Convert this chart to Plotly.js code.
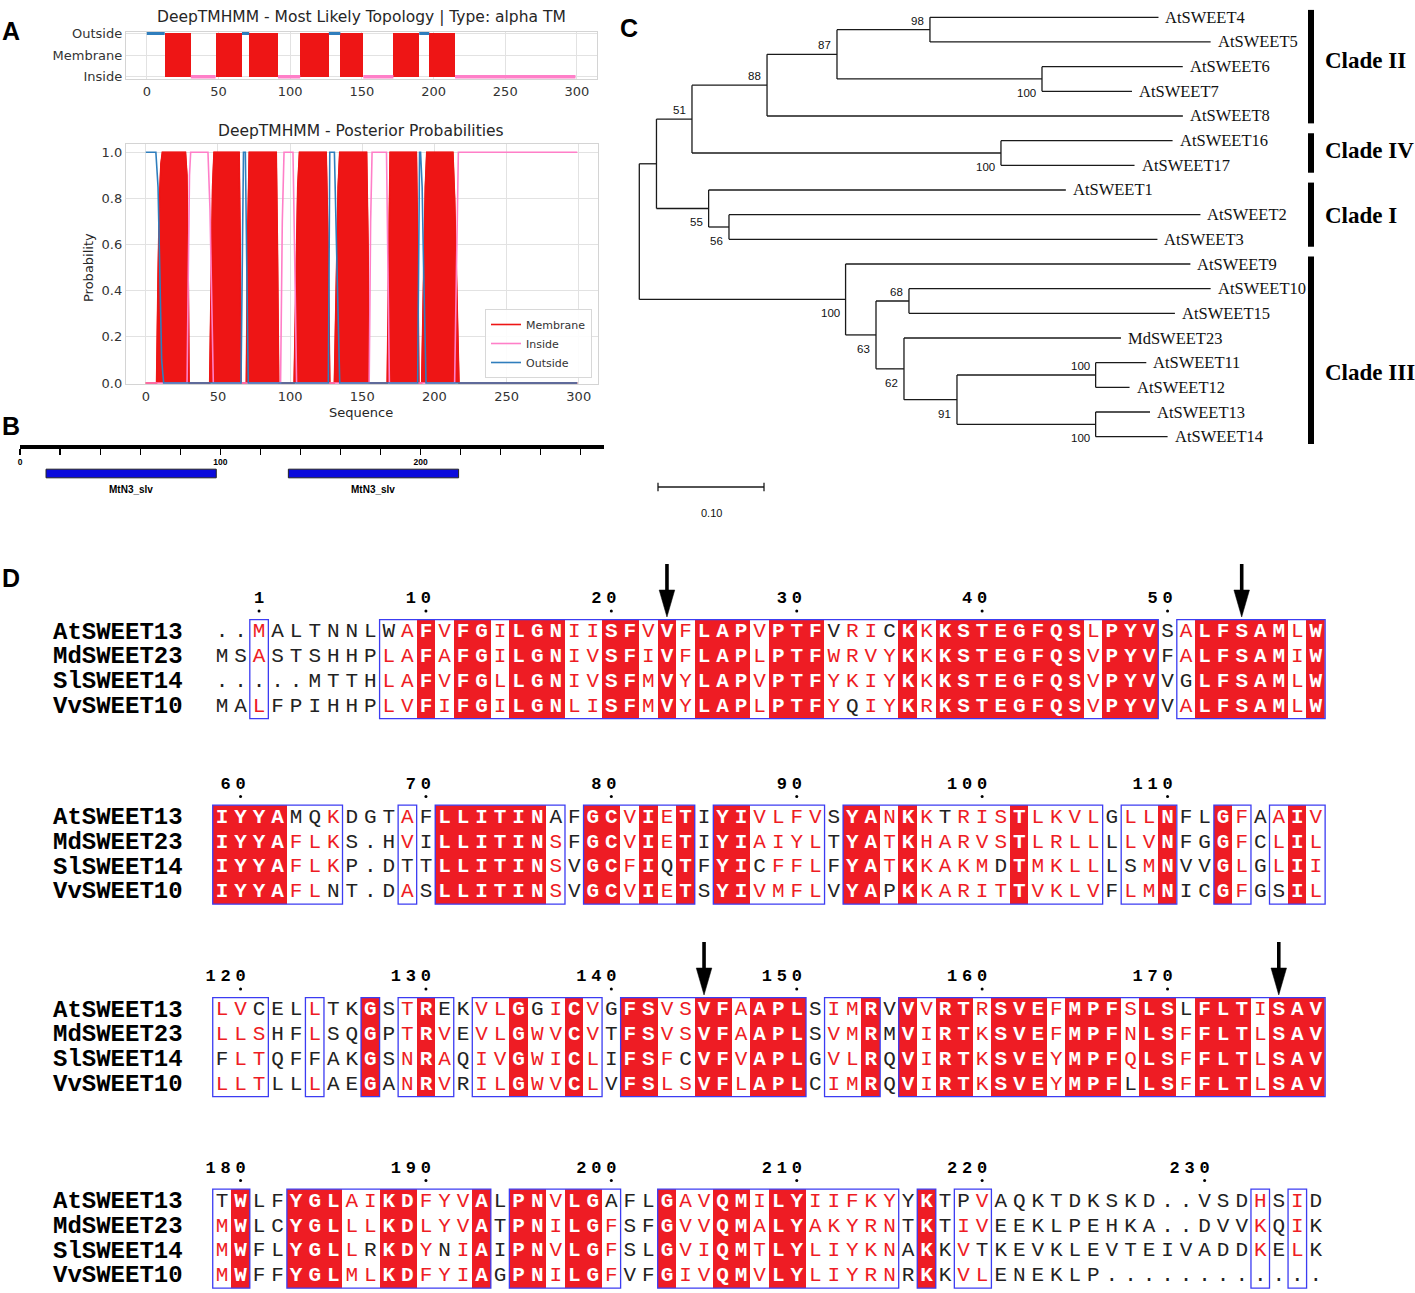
<!DOCTYPE html>
<html>
<head>
<meta charset="utf-8">
<script src="https://cdn.plot.ly/plotly-3.0.1.min.js"></script>
<style>
html,body{margin:0;padding:0;background:#ffffff;}
#chart{width:1415px;height:1293px;}
</style>
</head>
<body>
<div id="chart"></div>
<script>
// ===================== DATA =====================
// Panel A (top): DeepTMHMM most likely topology (residue segments)
const topoStart = [0, 12.5, 30.7, 48, 66.4, 71.4, 91.5, 107, 127, 135, 151, 172, 190, 197, 215];
const topoEnd   = [12.5, 30.7, 48, 66.4, 71.4, 91.5, 107, 127, 135, 151, 172, 190, 197, 215, 299];
const topoType  = ['Outside','Membrane','Inside','Membrane','Outside','Membrane','Inside','Membrane','Outside','Membrane','Inside','Membrane','Outside','Membrane','Inside'];
const topoLevels = ['Inside','Membrane','Outside'];

// Panel A (bottom): posterior probabilities (breakpoints)
const membraneX = [0,7.5,8.5,9.5,10.5,11.5, 27.5,28.5,29.5,30, 44.3,45.3,46.3,47.3, 64.7,65.4,66, 69.7,70.5,71.7, 90.4,91.2,92.1, 102.8,104,105.3,106.5, 125,126.3,127.5, 130.7,132,133.3,134.4, 153,154,154.8, 167.3,168.3,169.3, 187.5,188.4,189.2, 191.2,192.5,193.7,194.7, 212.8,214,215.5,217, 299];
const membraneY = [0,0,0.45,0.8,0.95,1, 1,0.9,0.4,0, 0,0.5,0.85,1, 1,0.6,0, 0,0.6,1, 1,0.6,0, 0,0.45,0.85,1, 1,0.6,0, 0,0.45,0.85,1, 1,0.6,0, 0,0.6,1, 1,0.6,0, 0,0.45,0.85,1, 1,0.8,0.4,0, 0];
const insideX = [0,28.6,29.5,30.3,31.1, 43.1,44.5,46,46.8, 93.4,94.6,95.8, 102,103.3,104.5, 154.8,155.8,156.8, 166.8,167.8,168.8, 214,215.3,216.6,299];
const insideY = [0,0,0.5,0.9,1, 1,0.75,0.2,0, 0,0.7,1, 1,0.5,0, 0,0.7,1, 1,0.5,0, 0,0.6,1,1];
const outsideX = [0,7,8.5,10,11,12.4, 66,67.7,69,71, 126.5,127.5,130.7,132.5,134.4, 188.4,189.7,190.4,191.5,192.5,194.2, 299];
const outsideY = [1,1,0.85,0.4,0.1,0, 0,1,1,0, 0,1,1,0.5,0, 0,1,1,0.85,0.5,0, 0];
const probTicks = [0, 0.2, 0.4, 0.6, 0.8, 1.0];
const seqTicks = [0, 50, 100, 150, 200, 250, 300];

// Panel B: Pfam domains
const proteinLength = 291.6;
const domainStart = [13, 134];
const domainEnd   = [98, 219];
const domainName  = ['MtN3_slv', 'MtN3_slv'];
const domainTicks = [0,20,40,60,80,100,120,140,160,180,200,220,240,260,280];
const domainTickLabels = ['0','','','','','100','','','','','200','','','',''];

// Panel C: phylogenetic tree (preorder), branch lengths and bootstrap values
const treeNode   = ['root','n1','n51','n88','n87','n98','AtSWEET4','AtSWEET5','n100a','AtSWEET6','AtSWEET7','AtSWEET8','n100b','AtSWEET16','AtSWEET17','n55','AtSWEET1','n56','AtSWEET2','AtSWEET3','n100c','AtSWEET9','n63','n68','AtSWEET10','AtSWEET15','n62','MdSWEET23','n91','n100d','AtSWEET11','AtSWEET12','n100e','AtSWEET13','AtSWEET14'];
const treeParent = [null,'root','n1','n51','n88','n87','n98','n98','n87','n100a','n100a','n88','n51','n100b','n100b','n1','n55','n55','n56','n56','root','n100c','n100c','n63','n68','n68','n63','n62','n62','n91','n100d','n100d','n91','n100e','n100e'];
const treeBranch = [0,0.0162,0.0335,0.0708,0.066,0.0877,0.2156,0.2648,0.1934,0.1328,0.0849,0.3923,0.2915,0.1619,0.126,0.0492,0.337,0.0192,0.4448,0.4042,0.1946,0.3253,0.0287,0.0311,0.2846,0.2509,0.0264,0.2047,0.05,0.1308,0.0478,0.032,0.1308,0.0513,0.0679];
const treeBoot   = [null,null,51,88,87,98,null,null,100,null,null,null,100,null,null,55,null,56,null,null,100,null,63,68,null,null,62,null,91,100,null,null,100,null,null];
const bootAbove  = ['n51','n88','n87','n98','n68','n100d'];
const cladeName  = ['Clade II','Clade IV','Clade I','Clade III'];
const cladeFirst = ['AtSWEET4','AtSWEET16','AtSWEET1','AtSWEET9'];
const cladeLast  = ['AtSWEET8','AtSWEET17','AtSWEET3','AtSWEET14'];
const cladeLabelLeaf = [1.75, 5.4, 8.05, 14.4];
const scaleBarLength = 0.10;

// Panel D: multiple sequence alignment (4 blocks x 4 sequences)
const alnNames = ['AtSWEET13','MdSWEET23','SlSWEET14','VvSWEET10'];
const seqBlock1 = [
 '..MALTNNLW'+'AFVFGILGNI'+'ISFVVFLAPV'+'PTFVRICKKK'+'STEGFQSLPY'+'VSALFSAMLW',
 'MSASTSHHPL'+'AFAFGILGNI'+'VSFIVFLAPL'+'PTFWRVYKKK'+'STEGFQSVPY'+'VFALFSAMIW',
 '.....MTTHL'+'AFVFGLLGNI'+'VSFMVYLAPV'+'PTFYKIYKKK'+'STEGFQSVPY'+'VVGLFSAMLW',
 'MALFPIHHPL'+'VFIFGILGNL'+'ISFMVYLAPL'+'PTFYQIYKRK'+'STEGFQSVPY'+'VVALFSAMLW'];
const seqBlock2 = [
 'IYYAMQKDGT'+'AFLLITINAF'+'GCVIETIYIV'+'LFVSYANKKT'+'RISTLKVLGL'+'LNFLGFAAIV',
 'IYYAFLKS.H'+'VILLITINSF'+'GCVIETIYIA'+'IYLTYATKHA'+'RVSTLRLLLL'+'VNFGGFCLIL',
 'IYYAFLKP.D'+'TTLLITINSV'+'GCFIQTFYIC'+'FFLFYATKKA'+'KMDTMKLLLS'+'MNVVGLGLII',
 'IYYAFLNT.D'+'ASLLITINSV'+'GCVIETSYIV'+'MFLVYAPKKA'+'RITTVKLVFL'+'MNICGFGSIL'];
const seqBlock3 = [
 'LVCELLTKGS'+'TREKVLGGIC'+'VGFSVSVFAA'+'PLSIMRVVVR'+'TRSVEFMPFS'+'LSLFLTISAV',
 'LLSHFLSQGP'+'TRVEVLGWVC'+'VTFSVSVFAA'+'PLSVMRMVIR'+'TKSVEFMPFN'+'LSFFLTLSAV',
 'FLTQFFAKGS'+'NRAQIVGWIC'+'LIFSFCVFVA'+'PLGVLRQVIR'+'TKSVEYMPFQ'+'LSFFLTLSAV',
 'LLTLLLAEGA'+'NRVRILGWVC'+'LVFSLSVFLA'+'PLCIMRQVIR'+'TKSVEYMPFL'+'LSFFLTLSAV'];
const seqBlock4 = [
 'TWLFYGLAIK'+'DFYVALPNVL'+'GAFLGAVQMI'+'LYIIFKYYKT'+'PVAQKTDKSK'+'D..VSDHSID',
 'MWLCYGLLLK'+'DLYVATPNIL'+'GFSFGVVQMA'+'LYAKYRNTKT'+'IVEEKLPEHK'+'A..DVVKQIK',
 'MWFLYGLLRK'+'DYNIAIPNVL'+'GFSLGVIQMT'+'LYLIYKNAKK'+'VTKEVKLEVT'+'EIVADDKELK',
 'MWFFYGLMLK'+'DFYIAGPNIL'+'GFVFGIVQMV'+'LYLIYRNRKK'+'VLENEKLP..'+'..........'];
// residue class: W = identical (white on red), R = similar (red), K = other (black)
const styleBlock1 = [
 'KKRKKKKKKK'+'RWRWWRWWWR'+'RWWRWRWWWR'+'WWWKRRKWRW'+'WWWWWWWRWW'+'WKRWWWWWRW',
 'KKRKKKKKKR'+'RWRWWRWWWR'+'RWWRWRWWWR'+'WWWRRRRWRW'+'WWWWWWWRWW'+'WKRWWWWWRW',
 'KKKKKKKKKR'+'RWRWWRWWWR'+'RWWRWRWWWR'+'WWWRRRRWRW'+'WWWWWWWRWW'+'WKKWWWWWRW',
 'KKRKKKKKKR'+'RWRWWRWWWR'+'RWWRWRWWWR'+'WWWRKRRWRW'+'WWWWWWWRWW'+'WKRWWWWWRW'];
const styleBlock2 = [
 'WWWWKKRKKK'+'RKWWWWWWKK'+'WWRWRWKWWR'+'RRRKWWRWRK'+'RRRWRRRRKR'+'RWKKWRKRWR',
 'WWWWRRRKKK'+'RKWWWWWWRK'+'WWRWRWKWWR'+'RRRKWWRWRR'+'RRRWRRRRKR'+'RWKKWRKRWR',
 'WWWWRRRKKK'+'KKWWWWWWRK'+'WWRWKWKWWK'+'RRRKWWRWRR'+'RRKWRRRRKK'+'RWKKWRKRWR',
 'WWWWRRKKKK'+'RKWWWWWWRK'+'WWRWRWKWWR'+'RRRKWWKWRR'+'RRRWRRRRKR'+'RWKKWRKKWR'];
const styleBlock3 = [
 'RRKKKRKKWK'+'RWKKRRWKRW'+'RKWWRRWWRW'+'WWKRRWKWRW'+'WRWWWRWWWR'+'WWKWWWRWWW',
 'RRRKKRKKWK'+'RWRKRRWRRW'+'RKWWRRWWRW'+'WWKRRWKWRW'+'WRWWWRWWWR'+'WWRWWWRWWW',
 'KRRKKKKKWK'+'RWRKRRWRRW'+'RKWWRKWWRW'+'WWKRRWKWRW'+'WRWWWRWWWR'+'WWRWWWRWWW',
 'RRRKKRKKWK'+'RWRKRRWRRW'+'RKWWRRWWRW'+'WWKRRWKWRW'+'WRWWWRWWWK'+'WWRWWWRWWW'];
const styleBlock4 = [
 'KWKKWWWRRW'+'WRRRWKWWRW'+'WKKKWRRWWR'+'WWRRRRRKWK'+'KRKKKKKKKK'+'KKKKKKRKRK',
 'RWKKWWWRRW'+'WRRRWKWWRW'+'WRKKWRRWWR'+'WWRRRRRKWK'+'RRKKKKKKKK'+'KKKKKKRKRK',
 'RWKKWWWRKW'+'WRKRWKWWRW'+'WRKKWRRWWR'+'WWRRRRRKWK'+'RKKKKKKKKK'+'KKKKKKRKRK',
 'RWKKWWWRRW'+'WRRRWKWWRW'+'WRKKWRRWWR'+'WWRRRRRKWK'+'RRKKKKKKKK'+'KKKKKKKKKK'];
const boxBlock1 = [[3,3],[10,51],[53,60]];
const boxBlock2 = [[1,7],[11,11],[13,19],[21,26],[28,33],[35,48],[50,52],[55,56],[58,60]];
const boxBlock3 = [[1,3],[6,6],[9,9],[11,13],[15,21],[23,32],[34,36],[38,60]];
const boxBlock4 = [[1,2],[5,15],[17,22],[25,37],[39,39],[41,42],[57,57],[59,59]];
const arrowResidues = [23, 54, 145, 176];   // AtSWEET13 numbering

// ===================== STYLE / LAYOUT CONSTANTS =====================
const W = 1415, H = 1293;
const px = p => p / W, py = p => 1 - p / H;
const RED_A = '#ee1515', PINK = '#ff7fc8', BLUE_A = '#2f7ebd';
const GRID = '#e2e2e2', SPINE = '#d4d4d4', TXT = '#333333';
const RED = '#ee1c24', BOXBLUE = '#3c3cf2';
const DJ = "'DejaVu Sans', sans-serif";
const MONO = "'Liberation Mono', 'Courier New', monospace";
const SERIF = "'Liberation Serif', 'Times New Roman', serif";
const SANS = "'Liberation Sans', Arial, sans-serif";

const traces = [];
const shapes = [];
const annotations = [];

// ---------- Panel A top ----------
const lvl = t => topoLevels.indexOf(t);
const tmMid = [], tmW = [];
topoType.forEach((t, i) => { if (t === 'Membrane') { tmMid.push((topoStart[i] + topoEnd[i]) / 2); tmW.push(topoEnd[i] - topoStart[i]); } });
traces.push({type:'bar', x: tmMid, y: tmMid.map(() => lvl('Outside') - lvl('Inside')), base: tmMid.map(() => lvl('Inside')),
  width: tmW, marker:{color: RED_A, line:{width:0}}, xaxis:'x', yaxis:'y', showlegend:false, hoverinfo:'skip'});
['Outside','Inside'].forEach(kind => {
  const xs = [], ys = [];
  topoType.forEach((t, i) => { if (t === kind) { xs.push(topoStart[i], topoEnd[i], null); ys.push(lvl(kind), lvl(kind), null); } });
  traces.push({type:'scatter', mode:'lines', x: xs, y: ys, line:{color: kind === 'Outside' ? BLUE_A : PINK, width: 3.5},
    xaxis:'x', yaxis:'y', showlegend:false, hoverinfo:'skip', cliponaxis:false});
});

// ---------- Panel A bottom ----------
traces.push({type:'scatter', mode:'lines', x: membraneX, y: membraneY, fill:'tozeroy', fillcolor: RED_A,
  line:{color: RED_A, width: 1.2}, xaxis:'x2', yaxis:'y2', showlegend:false, hoverinfo:'skip'});
traces.push({type:'scatter', mode:'lines', name:'Membrane', x: membraneX, y: membraneY,
  line:{color: RED_A, width: 1.6}, xaxis:'x2', yaxis:'y2', showlegend:true, hoverinfo:'skip'});
traces.push({type:'scatter', mode:'lines', name:'Inside', x: insideX, y: insideY,
  line:{color: PINK, width: 1.6}, xaxis:'x2', yaxis:'y2', showlegend:true, hoverinfo:'skip'});
traces.push({type:'scatter', mode:'lines', name:'Outside', x: outsideX, y: outsideY,
  line:{color: BLUE_A, width: 1.6}, xaxis:'x2', yaxis:'y2', showlegend:true, hoverinfo:'skip'});

// ---------- Panel B ----------
// invisible anchor trace so the ruler axis (x3) is drawn
traces.push({type:'scatter', mode:'markers', x:[0, proteinLength], y:[0.5, 0.5], marker:{opacity:0, size:1},
  xaxis:'x3', yaxis:'y3', showlegend:false, hoverinfo:'skip'});
traces.push({type:'bar', orientation:'h', base: domainStart, x: domainStart.map((s, i) => domainEnd[i] - s),
  y: domainStart.map(() => 0), width: 0.36, marker:{color:'#0b0bdc', line:{color:'#222222', width:1}},
  xaxis:'x4', yaxis:'y4', showlegend:false, hoverinfo:'skip'});
domainName.forEach((n, i) => annotations.push({xref:'x4', yref:'paper', x:(domainStart[i] + domainEnd[i]) / 2, y: py(490),
  text: n, showarrow:false, xanchor:'center', yanchor:'middle', font:{family: SANS, size: 10, color:'#000', weight:'bold'}}));

// ---------- Panel C (tree) ----------
const idx = {}; treeNode.forEach((n, i) => idx[n] = i);
const kids = treeNode.map(() => []);
treeParent.forEach((p, i) => { if (p !== null) kids[idx[p]].push(i); });
const nx = [], ny = []; let leafCounter = 0;
(function lay(i, x0) {
  nx[i] = x0 + treeBranch[i];
  if (kids[i].length === 0) { ny[i] = leafCounter++; }
  else { kids[i].forEach(c => lay(c, nx[i])); const k = kids[i]; ny[i] = (ny[k[0]] + ny[k[k.length - 1]]) / 2; }
})(0, 0);
const tx = [], ty = [];
treeNode.forEach((n, i) => {
  if (treeParent[i] !== null) { tx.push(nx[idx[treeParent[i]]], nx[i], null); ty.push(ny[i], ny[i], null); }
  if (kids[i].length) { const k = kids[i]; tx.push(nx[i], nx[i], null); ty.push(ny[k[0]], ny[k[k.length - 1]], null); }
});
traces.push({type:'scatter', mode:'lines', x: tx, y: ty, line:{color:'#1a1a1a', width:1.3}, xaxis:'x5', yaxis:'y5', showlegend:false, hoverinfo:'skip'});
treeNode.forEach((n, i) => {
  if (kids[i].length === 0) {
    annotations.push({xref:'x5', yref:'y5', x: nx[i], y: ny[i], text: n, showarrow:false, xanchor:'left', yanchor:'middle', xshift: 5,
      font:{family: SERIF, size: 16.5, color:'#111'}});
  }
  if (treeBoot[i] !== null) {
    const above = bootAbove.indexOf(n) >= 0;
    annotations.push({xref:'x5', yref:'y5', x: nx[i], y: ny[i], text: String(treeBoot[i]), showarrow:false, xanchor:'right', yanchor:'middle',
      xshift: -4, yshift: above ? 9 : -14, font:{family: SANS, size: 11.5, color:'#111'}});
  }
});
cladeName.forEach((c, k) => {
  const a = ny[idx[cladeFirst[k]]] - 0.3, b = ny[idx[cladeLast[k]]] + 0.3;
  shapes.push({type:'line', xref:'paper', yref:'y5', x0: px(1311), x1: px(1311), y0: a, y1: b, line:{color:'#000', width:6}});
  annotations.push({xref:'paper', yref:'y5', x: px(1323), y: cladeLabelLeaf[k], text: c, showarrow:false, xanchor:'left', yanchor:'middle',
    font:{family: SERIF, size: 23, color:'#000', weight:'bold'}});
});
// scale bar
const sb0 = (658 - 639.3) / 1060, sbY = 19.04;
traces.push({type:'scatter', mode:'lines', x:[sb0, sb0 + scaleBarLength, null, sb0, sb0, null, sb0 + scaleBarLength, sb0 + scaleBarLength],
  y:[sbY, sbY, null, sbY - 0.17, sbY + 0.17, null, sbY - 0.17, sbY + 0.17], line:{color:'#1a1a1a', width:1.3},
  xaxis:'x5', yaxis:'y5', showlegend:false, hoverinfo:'skip'});
annotations.push({xref:'x5', yref:'y5', x: sb0 + scaleBarLength / 2, y: 20.1, text: scaleBarLength.toFixed(2), showarrow:false,
  font:{family: SANS, size: 11, color:'#111'}});

// ---------- Panel D (alignment) ----------
const blocks = [
  {seq: seqBlock1, sty: styleBlock1, box: boxBlock1},
  {seq: seqBlock2, sty: styleBlock2, box: boxBlock2},
  {seq: seqBlock3, sty: styleBlock3, box: boxBlock3},
  {seq: seqBlock4, sty: styleBlock4, box: boxBlock4}];
const blockRow1 = [632, 817.5, 1010, 1201.5];
const ROWP = 24.75, DIGIT = 15 / 18.54;
const letters = {W:{x:[],y:[],t:[]}, R:{x:[],y:[],t:[]}, K:{x:[],y:[],t:[]}};
const numX = [], numY = [], numT = [], dotX = [], dotY = [];
let resNo = 0;
blocks.forEach((b, bi) => {
  const rowsY = b.seq.map((s, r) => blockRow1[bi] + r * ROWP);
  const ncol = b.seq[0].length;
  const cols = Array.from({length: ncol}, (_, c) => c + 1);
  const z = b.seq.map((s, r) => cols.map(c => b.sty[r][c - 1] === 'W' ? 1 : null));
  traces.push({type:'heatmap', x: cols, y: rowsY, z: z, zmin:0, zmax:1, colorscale:[[0, RED],[1, RED]], showscale:false,
    xaxis:'x6', yaxis:'y6', hoverinfo:'skip'});
  b.seq.forEach((s, r) => {
    for (let c = 0; c < s.length; c++) { const st = b.sty[r][c]; letters[st].x.push(c + 1); letters[st].y.push(rowsY[r]); letters[st].t.push(s[c]); }
    annotations.push({xref:'paper', yref:'y6', x: px(51), y: rowsY[r], text: alnNames[r], showarrow:false, xanchor:'left', yanchor:'middle',
      font:{family: MONO, size: 24, color:'#000', weight:'bold'}});
  });
  const top = rowsY[0] - ROWP / 2, bot = rowsY[rowsY.length - 1] + ROWP / 2;
  b.box.forEach(([a, e]) => shapes.push({type:'rect', xref:'x6', yref:'y6', x0: a - 0.5, x1: e + 0.5, y0: top, y1: bot,
    line:{color: BOXBLUE, width: 1.3}, fillcolor:'rgba(0,0,0,0)'}));
  const ref = b.seq[0];
  for (let c = 0; c < ref.length; c++) {
    if (ref[c] === '.') continue;
    resNo++;
    if (arrowResidues.indexOf(resNo) >= 0) {
      const col = c + 1, tip = blockRow1[bi] - 15;
      shapes.push({type:'line', xref:'x6', yref:'y6', x0: col, x1: col, y0: tip - 53, y1: tip - 20, line:{color:'#000', width:3.6}});
      shapes.push({type:'path', xref:'x6', yref:'y6', path:`M ${col - 0.42} ${tip - 27} L ${col + 0.42} ${tip - 27} L ${col} ${tip} Z`,
        fillcolor:'#000', line:{color:'#000', width:0.5}});
    }
    if (resNo === 1 || resNo % 10 === 0) {
      const str = String(resNo);
      for (let k = 0; k < str.length; k++) { numX.push(c + 1 - (str.length - 1 - k) * DIGIT); numY.push(blockRow1[bi] - 33); numT.push(str[k]); }
      dotX.push(c + 1); dotY.push(blockRow1[bi] - 21);
    }
  }
});
traces.push({type:'scatter', mode:'text', x: letters.W.x, y: letters.W.y, text: letters.W.t, textposition:'middle center',
  textfont:{family: MONO, size: 21, color:'#ffffff', weight:'bold'}, xaxis:'x6', yaxis:'y6', showlegend:false, hoverinfo:'skip', cliponaxis:false});
traces.push({type:'scatter', mode:'text', x: letters.R.x, y: letters.R.y, text: letters.R.t, textposition:'middle center',
  textfont:{family: MONO, size: 21, color: RED}, xaxis:'x6', yaxis:'y6', showlegend:false, hoverinfo:'skip', cliponaxis:false});
traces.push({type:'scatter', mode:'text', x: letters.K.x, y: letters.K.y, text: letters.K.t, textposition:'middle center',
  textfont:{family: MONO, size: 21, color:'#222222'}, xaxis:'x6', yaxis:'y6', showlegend:false, hoverinfo:'skip', cliponaxis:false});
traces.push({type:'scatter', mode:'text', x: numX, y: numY, text: numT, textposition:'middle center',
  textfont:{family: MONO, size: 17, color:'#000', weight:'bold'}, xaxis:'x6', yaxis:'y6', showlegend:false, hoverinfo:'skip', cliponaxis:false});
traces.push({type:'scatter', mode:'markers', x: dotX, y: dotY, marker:{size:3, color:'#000'}, xaxis:'x6', yaxis:'y6', showlegend:false, hoverinfo:'skip'});

// ---------- titles / labels ----------
const ann = (x, y, text, font, extra) => annotations.push(Object.assign({xref:'paper', yref:'paper', x: px(x), y: py(y), text, showarrow:false,
  xanchor:'center', yanchor:'middle', font}, extra || {}));
ann(361, 17, 'DeepTMHMM - Most Likely Topology | Type: alpha TM', {family: DJ, size: 15.5, color:'#262626'});
ann(361, 131, 'DeepTMHMM - Posterior Probabilities', {family: DJ, size: 15.5, color:'#262626'});
ann(361, 412, 'Sequence', {family: DJ, size: 13, color:'#262626'});
ann(88, 268, 'Probability', {family: DJ, size: 13, color:'#262626'}, {textangle: -90});
ann(11, 31, 'A', {family: SANS, size: 25, color:'#000', weight:'bold'});
ann(11, 426, 'B', {family: SANS, size: 25, color:'#000', weight:'bold'});
ann(629, 28, 'C', {family: SANS, size: 25, color:'#000', weight:'bold'});
ann(11, 578, 'D', {family: SANS, size: 25, color:'#000', weight:'bold'});

const seabornAxis = {showgrid:true, gridcolor: GRID, gridwidth:1, zeroline:false, showline:true, mirror:true, linecolor: SPINE, linewidth:1.2,
  ticks:'', tickfont:{family: DJ, size: 13, color: TXT}, fixedrange:true};
const hidden = {visible:false, fixedrange:true};

const layout = {
  width: W, height: H, margin:{l:0, r:0, t:0, b:0}, paper_bgcolor:'#ffffff', plot_bgcolor:'rgba(0,0,0,0)',
  hovermode:false, bargap:0,
  legend:{x: px(592), xanchor:'right', y: py(378), yanchor:'bottom', bgcolor:'rgba(255,255,255,0.9)', bordercolor:'#d8d8d8', borderwidth:1,
    font:{family: DJ, size: 11, color: TXT}, itemwidth:30, tracegroupgap:0},
  xaxis: Object.assign({}, seabornAxis, {domain:[px(126), px(597)], range:[-14.5, 314], anchor:'y', tickvals: seqTicks}),
  yaxis: Object.assign({}, seabornAxis, {domain:[py(79), py(31.7)], range:[-0.1, 2.07], anchor:'x', tickvals:[0,1,2], ticktext: topoLevels}),
  xaxis2: Object.assign({}, seabornAxis, {domain:[px(126), px(597.5)], range:[-13.7, 313], anchor:'y2', tickvals: seqTicks}),
  yaxis2: Object.assign({}, seabornAxis, {domain:[py(384), py(144.3)], range:[-0.0043, 1.0347], anchor:'x2', tickvals: probTicks,
    ticktext: probTicks.map(v => v.toFixed(1))}),
  xaxis3: {domain:[px(20), px(604)], range:[0, proteinLength], anchor:'y3', showline:true, linewidth:3.6, linecolor:'#000',
    ticks:'outside', ticklen:6, tickwidth:1.2, tickcolor:'#000', tickvals: domainTicks, ticktext: domainTickLabels,
    tickfont:{family: SANS, size: 8.5, color:'#000', weight:'bold'}, showgrid:false, zeroline:false, fixedrange:true},
  yaxis3: Object.assign({}, hidden, {domain:[py(445), py(432)], range:[0, 1], anchor:'x3'}),
  xaxis4: Object.assign({}, hidden, {domain:[px(20), px(604)], range:[0, proteinLength], matches:'x3', anchor:'y4'}),
  yaxis4: Object.assign({}, hidden, {domain:[py(485.5), py(461.5)], range:[-0.5, 0.5], anchor:'x4'}),
  xaxis5: Object.assign({}, hidden, {domain:[px(620), 1], range:[(620 - 639.3) / 1060, (1415 - 639.3) / 1060], anchor:'y5'}),
  yaxis5: Object.assign({}, hidden, {domain:[py(525), 1], range:[(525 - 17.3) / 24.67, -17.3 / 24.67], anchor:'x5'}),
  xaxis6: Object.assign({}, hidden, {domain:[0, 1], range:[1 - 222 / 18.54, 1 + (1415 - 222) / 18.54], anchor:'y6'}),
  yaxis6: Object.assign({}, hidden, {domain:[0, py(555)], range:[1293, 555], anchor:'x6'}),
  shapes, annotations
};

Plotly.newPlot('chart', traces, layout, {staticPlot:true, displayModeBar:false});
</script>
</body>
</html>
